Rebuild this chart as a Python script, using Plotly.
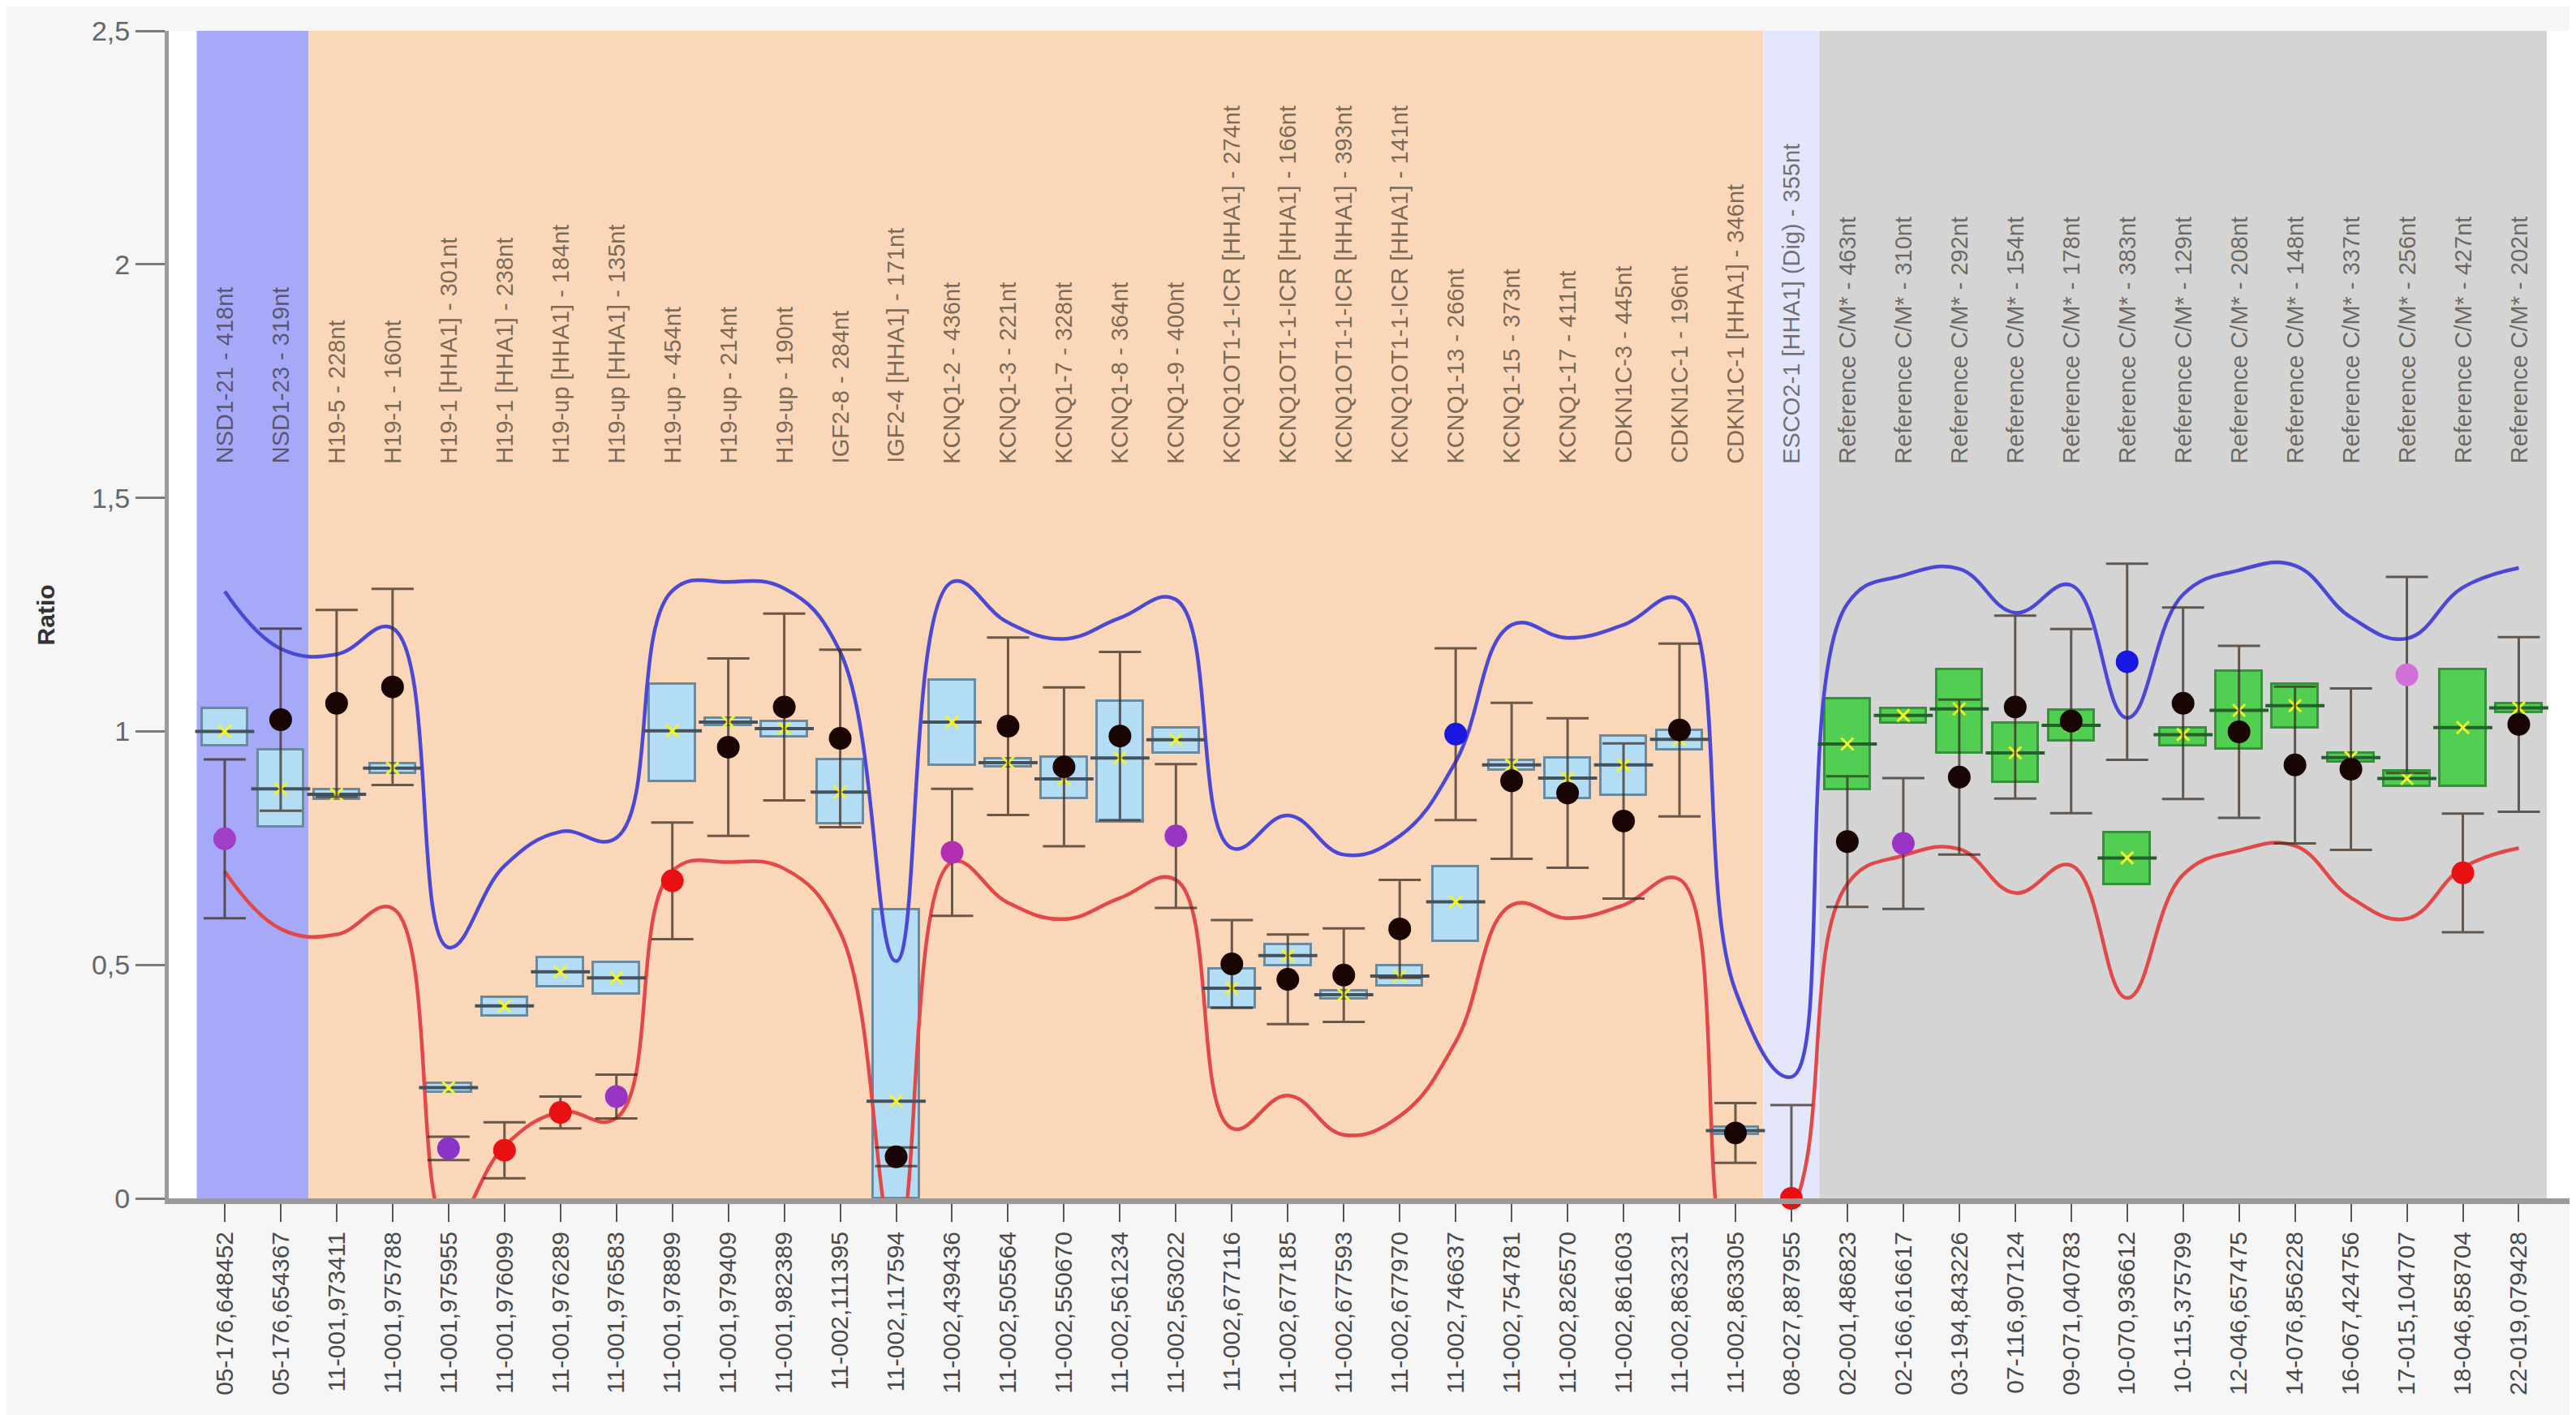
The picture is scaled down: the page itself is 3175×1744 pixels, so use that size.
import plotly.graph_objects as go

# categories (bottom axis) and probe names (top labels)
positions = [
    "05-176,648452", "05-176,654367", "11-001,973411", "11-001,975788", "11-001,975955",
    "11-001,976099", "11-001,976289", "11-001,976583", "11-001,978899", "11-001,979409",
    "11-001,982389", "11-002,111395", "11-002,117594", "11-002,439436", "11-002,505564",
    "11-002,550670", "11-002,561234", "11-002,563022", "11-002,677116", "11-002,677185",
    "11-002,677593", "11-002,677970", "11-002,746637", "11-002,754781", "11-002,826570",
    "11-002,861603", "11-002,863231", "11-002,863305", "08-027,887955", "02-001,486823",
    "02-166,616617", "03-194,843226", "07-116,907124", "09-071,040783", "10-070,936612",
    "10-115,375799", "12-046,657475", "14-076,856228", "16-067,424756", "17-015,104707",
    "18-046,858704", "22-019,079428",
]
probes = [
    "NSD1-21 - 418nt", "NSD1-23 - 319nt", "H19-5 - 228nt", "H19-1 - 160nt",
    "H19-1 [HHA1] - 301nt", "H19-1 [HHA1] - 238nt", "H19-up [HHA1] - 184nt",
    "H19-up [HHA1] - 135nt", "H19-up - 454nt", "H19-up - 214nt", "H19-up - 190nt",
    "IGF2-8 - 284nt", "IGF2-4 [HHA1] - 171nt", "KCNQ1-2 - 436nt", "KCNQ1-3 - 221nt",
    "KCNQ1-7 - 328nt", "KCNQ1-8 - 364nt", "KCNQ1-9 - 400nt",
    "KCNQ1OT1-1-ICR [HHA1] - 274nt", "KCNQ1OT1-1-ICR [HHA1] - 166nt",
    "KCNQ1OT1-1-ICR [HHA1] - 393nt", "KCNQ1OT1-1-ICR [HHA1] - 141nt",
    "KCNQ1-13 - 266nt", "KCNQ1-15 - 373nt", "KCNQ1-17 - 411nt", "CDKN1C-3 - 445nt",
    "CDKN1C-1 - 196nt", "CDKN1C-1 [HHA1] - 346nt", "ESCO2-1 [HHA1] (Dig) - 355nt",
    "Reference C/M* - 463nt", "Reference C/M* - 310nt", "Reference C/M* - 292nt",
    "Reference C/M* - 154nt", "Reference C/M* - 178nt", "Reference C/M* - 383nt",
    "Reference C/M* - 129nt", "Reference C/M* - 208nt", "Reference C/M* - 148nt",
    "Reference C/M* - 337nt", "Reference C/M* - 256nt", "Reference C/M* - 427nt",
    "Reference C/M* - 202nt",
]

# reference boxes
box_low = [0.97, 0.795, 0.855, 0.911, 0.228, 0.391, 0.453, 0.438, 0.893, 1.012,
           0.989, 0.802, 0.0, 0.928, 0.924, 0.856, 0.806, 0.954, 0.408, 0.499,
           0.428, 0.455, 0.551, 0.918, 0.856, 0.863, 0.961, 0.137, None, 0.875,
           1.018, 0.954, 0.891, 0.98, 0.672, 0.97, 0.963, 1.008, 0.934, 0.882,
           0.882, 1.04]
box_high = [1.05, 0.96, 0.875, 0.931, 0.246, 0.431, 0.516, 0.506, 1.102, 1.028,
            1.022, 0.94, 0.619, 1.11, 0.942, 0.945, 1.065, 1.008, 0.492, 0.544,
            0.444, 0.499, 0.71, 0.938, 0.944, 0.991, 1.003, 0.153, None, 1.071,
            1.05, 1.132, 1.018, 1.046, 0.783, 1.008, 1.13, 1.102, 0.954, 0.916,
            1.132, 1.06]
box_mean = [1.0, 0.877, 0.865, 0.921, 0.237, 0.412, 0.485, 0.472, 1.001, 1.02,
            1.006, 0.87, 0.208, 1.02, 0.933, 0.898, 0.943, 0.982, 0.45, 0.52,
            0.436, 0.476, 0.635, 0.928, 0.9, 0.928, 0.983, 0.145, None, 0.973,
            1.034, 1.048, 0.954, 1.013, 0.729, 0.993, 1.045, 1.055, 0.944, 0.899,
            1.008, 1.05]

# sample ratios
sample = [0.77, 1.025, 1.06, 1.095, 0.107, 0.103, 0.184, 0.218, 0.68, 0.966,
          1.052, 0.985, 0.089, 0.741, 1.011, 0.924, 0.99, 0.776, 0.502, 0.469,
          0.478, 0.577, 0.994, 0.894, 0.868, 0.808, 1.003, 0.14, 0.0, 0.764,
          0.76, 0.902, 1.052, 1.022, 1.149, 1.06, 0.999, 0.928, 0.919, 1.121,
          0.697, 1.015]
sample_err = [0.17, 0.195, 0.2, 0.21, 0.025, 0.06, 0.034, 0.047, 0.125, 0.19,
              0.2, 0.19, 0.02, 0.136, 0.19, 0.17, 0.18, 0.154, 0.094, 0.096,
              0.1, 0.105, 0.184, 0.167, 0.16, 0.166, 0.185, 0.064, 0.2, 0.14,
              0.14, 0.166, 0.196, 0.197, 0.21, 0.205, 0.184, 0.168, 0.173, 0.21,
              0.127, 0.187]
sample_color = ["#a040c8", "#1a0505", "#1a0505", "#1a0505", "#8a34c8", "#e81010",
                "#e81010", "#9a34c4", "#e81010", "#1a0505", "#1a0505", "#1a0505",
                "#1a0505", "#b030b0", "#1a0505", "#1a0505", "#1a0505", "#9a34c4",
                "#1a0505", "#1a0505", "#1a0505", "#1a0505", "#1818e0", "#1a0505",
                "#1a0505", "#1a0505", "#1a0505", "#1a0505", "#e81010", "#1a0505",
                "#9a34c4", "#1a0505", "#1a0505", "#1a0505", "#1818e0", "#1a0505",
                "#1a0505", "#1a0505", "#1a0505", "#d070d8", "#e81010", "#1a0505"]

# upper / lower limit curves
upper = [1.30, 1.177, 1.165, 1.221, 0.537, 0.712, 0.785, 0.772, 1.301, 1.32,
         1.306, 1.17, 0.508, 1.32, 1.233, 1.198, 1.243, 1.282, 0.75, 0.82,
         0.736, 0.776, 0.935, 1.228, 1.2, 1.228, 1.283, 0.445, 0.26, 1.273,
         1.334, 1.348, 1.254, 1.313, 1.029, 1.293, 1.345, 1.355, 1.244, 1.199,
         1.308, 1.35]
lower = [0.70, 0.577, 0.565, 0.621, -0.063, 0.112, 0.185, 0.172, 0.701, 0.72,
         0.706, 0.57, -0.092, 0.72, 0.633, 0.598, 0.643, 0.682, 0.15, 0.22,
         0.136, 0.176, 0.335, 0.628, 0.6, 0.628, 0.683, -0.155, -0.03, 0.673,
         0.734, 0.748, 0.654, 0.713, 0.429, 0.693, 0.745, 0.755, 0.644, 0.599,
         0.708, 0.75]

n_blue = 28  # first 28 probes are test probes, the rest after ESCO2 are references

box_height = [None if lo is None else hi - lo for lo, hi in zip(box_low, box_high)]
box_fill = ["#b3dcf5" if i < n_blue else "#52cf52" for i in range(len(positions))]
box_edge = ["#6a8aa0" if i < n_blue else "#35923a" for i in range(len(positions))]
med_color = ["#44525e" if i < n_blue else "#24602a" for i in range(len(positions))]

FONT = "Liberation Sans, Arial, sans-serif"

fig = go.Figure()

fig.add_trace(go.Bar(
    x=positions, y=box_height, base=box_low, width=0.82,
    marker=dict(color=box_fill, line=dict(color=box_edge, width=3)),
    hoverinfo="skip",
))

fig.add_trace(go.Scatter(
    x=positions, y=upper, mode="lines",
    line=dict(color="#4c48d6", width=4.5, shape="spline", smoothing=1.2),
    hoverinfo="skip",
))
fig.add_trace(go.Scatter(
    x=positions, y=lower, mode="lines",
    line=dict(color="#e24848", width=4.5, shape="spline", smoothing=1.2),
    hoverinfo="skip",
))

fig.add_trace(go.Scatter(
    x=positions, y=box_mean, mode="markers",
    marker=dict(symbol="line-ew", size=52, line=dict(color=med_color, width=4)),
    hoverinfo="skip",
))
fig.add_trace(go.Scatter(
    x=positions, y=box_mean, mode="markers",
    marker=dict(symbol="x-thin", size=15, line=dict(color="#f4f42a", width=3)),
    hoverinfo="skip",
))

fig.add_trace(go.Scatter(
    x=positions, y=sample, mode="markers",
    marker=dict(color=sample_color, size=28, line=dict(width=0)),
    error_y=dict(type="data", array=sample_err, color="rgba(60,45,35,0.75)",
                 thickness=3, width=26),
    cliponaxis=False,
))

# coloured background bands
bands = [(-0.5, 1.5, "#a5a9f8"), (1.5, 27.5, "#fad7b8"),
         (27.5, 28.5, "#e4e6fb"), (28.5, 41.5, "#d4d4d4")]
for x0, x1, col in bands:
    fig.add_shape(type="rect", xref="x", yref="y", x0=x0, x1=x1, y0=0, y1=2.5,
                  fillcolor=col, line=dict(width=0), layer="below")

for pos, name in zip(positions, probes):
    fig.add_annotation(x=pos, y=1.57, text=name, textangle=-90, showarrow=False,
                       xanchor="center", yanchor="bottom",
                       font=dict(family=FONT, size=29, color="rgba(40,30,20,0.62)"))

fig.add_annotation(xref="paper", yref="y", x=-0.051, y=1.25, text="<b>Ratio</b>",
                   textangle=-90, showarrow=False, xanchor="center", yanchor="middle",
                   font=dict(family=FONT, size=30, color="#333333"))

fig.update_layout(
    width=3175, height=1744,
    margin=dict(l=200, r=13, t=30, b=275),
    paper_bgcolor="#f6f6f6", plot_bgcolor="#ffffff",
    showlegend=False, bargap=0,
    font=dict(family=FONT),
)
fig.update_xaxes(
    type="category", range=[-1.0, 41.95],
    showline=True, linecolor="#9a9a9a", linewidth=7,
    ticks="outside", ticklen=22, tickwidth=2, tickcolor="#555555",
    tickangle=-90, tickfont=dict(size=30, color="#4a4a4a"),
    showgrid=False, zeroline=False,
)
fig.update_yaxes(
    range=[0, 2.5],
    tickvals=[0, 0.5, 1, 1.5, 2, 2.5],
    ticktext=["0", "0,5", "1", "1,5", "2", "2,5"],
    showline=True, linecolor="#9a9a9a", linewidth=5,
    ticks="outside", ticklen=36, tickwidth=3, tickcolor="#7a7a7a",
    tickfont=dict(size=34, color="#666666"),
    showgrid=False, zeroline=False,
)

fig.write_html("out.html")
